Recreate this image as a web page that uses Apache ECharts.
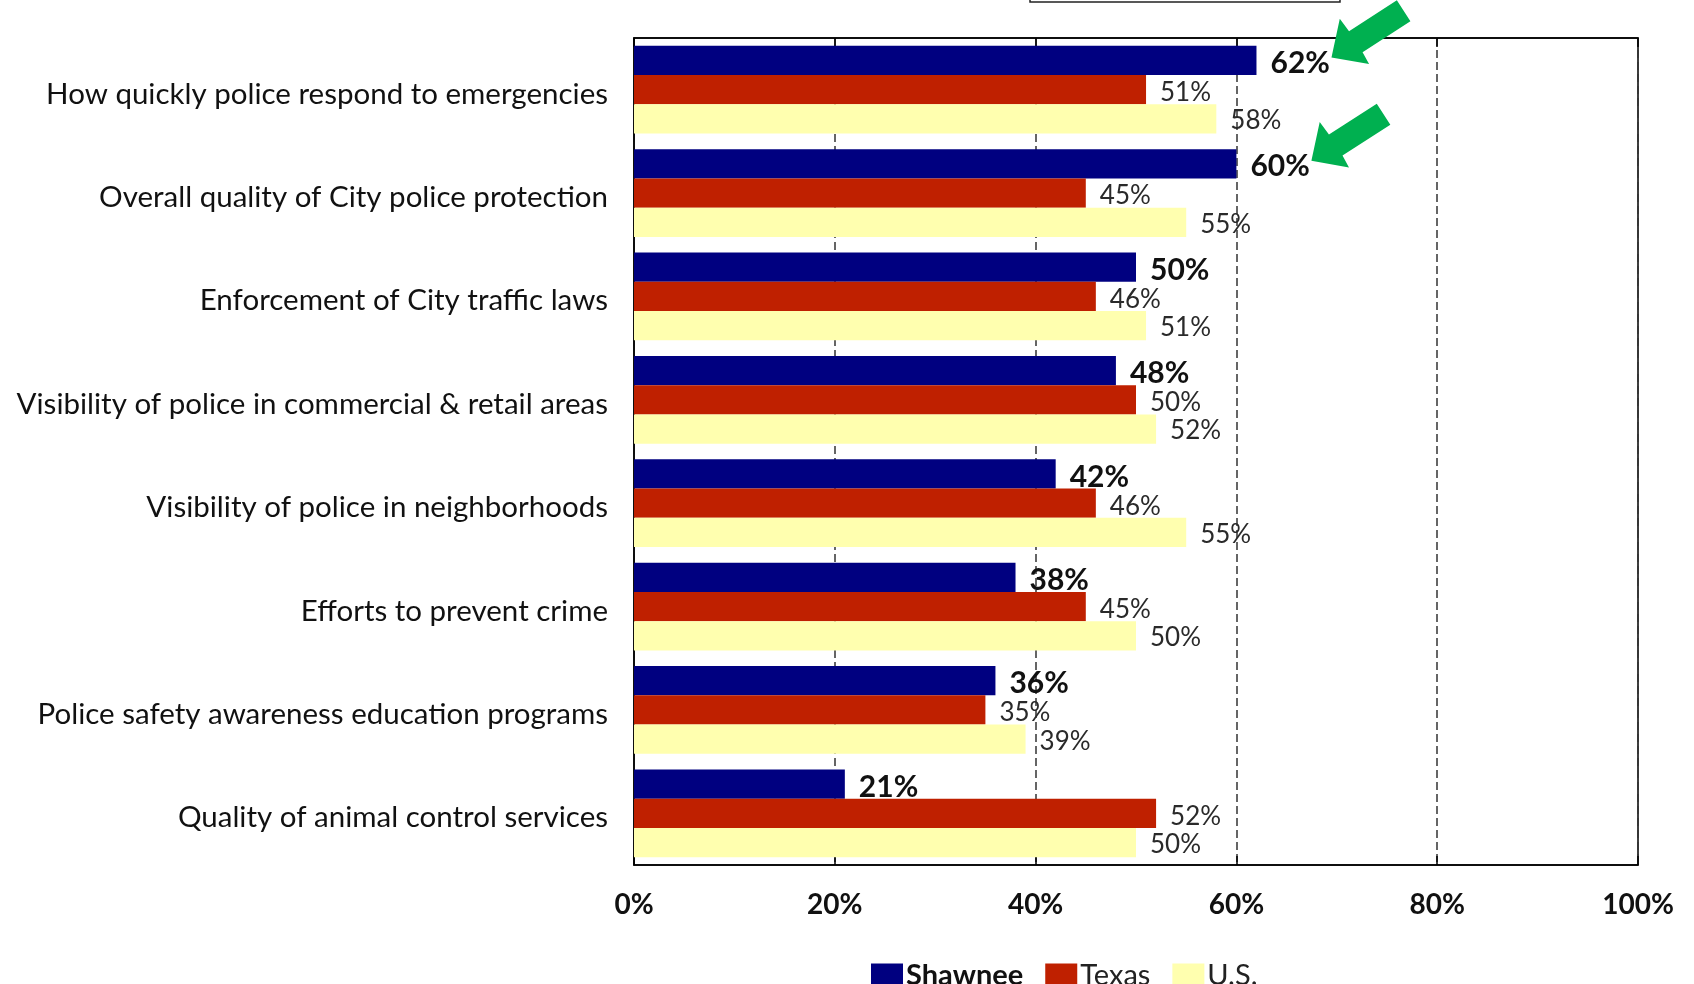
<!DOCTYPE html>
<html>
<head>
<meta charset="utf-8">
<title>Police services satisfaction</title>
<script src="https://cdn.jsdelivr.net/npm/echarts@6/dist/echarts.min.js"></script>
<style>
  html, body { margin: 0; padding: 0; background: #fff; }
  #chart { width: 1694px; height: 984px; }
</style>
</head>
<body>
<div id="chart"></div>
<script>
// Service categories, top to bottom
const categories = [
  'How quickly police respond to emergencies',
  'Overall quality of City police protection',
  'Enforcement of City traffic laws',
  'Visibility of police in commercial & retail areas',
  'Visibility of police in neighborhoods',
  'Efforts to prevent crime',
  'Police safety awareness education programs',
  'Quality of animal control services'
];

// Percent satisfied, by respondent group
const shawnee = [62, 60, 50, 48, 42, 38, 36, 21];
const texas   = [51, 45, 46, 50, 46, 45, 35, 52];
const us      = [58, 55, 51, 52, 55, 50, 39, 50];

// Percent axis ticks
const xTicks = [0, 20, 40, 60, 80, 100];

// Categories highlighted with an arrow
const highlighted = [0, 1];

const FONT = 'Lato, "Noto Sans", sans-serif';

const chart = echarts.init(document.getElementById('chart'), null, { renderer: 'canvas' });

function barSeries(name, data, color, bold, dy) {
  return {
    name: name,
    type: 'bar',
    data: data,
    barGap: '0%',
    barCategoryGap: '15%',
    itemStyle: { color: color },
    z: 3,
    label: {
      show: true,
      position: 'right',
      distance: 14,
      formatter: '{c}%',
      fontFamily: FONT,
      fontSize: bold ? 30 : 26,
      fontWeight: bold ? 'bold' : 'normal',
      color: bold ? '#111' : '#2a2a2a',
      offset: [0, dy]
    }
  };
}

const option = {
  backgroundColor: '#fff',
  animation: false,
  grid: {
    left: 634,
    right: 56,
    top: 38,
    bottom: 119,
    show: true,
    borderColor: '#000',
    borderWidth: 1.5,
    backgroundColor: 'transparent'
  },
  legend: {
    left: 866,
    top: 956,
    itemWidth: 32,
    itemHeight: 24,
    itemGap: 22,
    icon: 'rect',
    data: ['Shawnee', 'Texas', 'U.S.'],
    formatter: function (name) {
      return name === 'Shawnee' ? '{b|' + name + '}' : '{n|' + name + '}';
    },
    textStyle: {
      fontFamily: FONT,
      fontSize: 29,
      color: '#111',
      padding: [0, 0, 0, -2],
      rich: {
        b: { fontFamily: FONT, fontSize: 29, fontWeight: 'bold', color: '#111' },
        n: { fontFamily: FONT, fontSize: 29, color: '#222' }
      }
    }
  },
  xAxis: [
    {
      type: 'value',
      min: xTicks[0],
      max: xTicks[xTicks.length - 1],
      interval: xTicks[1] - xTicks[0],
      position: 'bottom',
      axisLine: { show: true, lineStyle: { color: '#000', width: 1.5 } },
      axisTick: { show: true, inside: true, length: 9, lineStyle: { color: '#000', width: 1.5 } },
      axisLabel: {
        formatter: '{value}%',
        fontFamily: FONT,
        fontSize: 28,
        fontWeight: 'bold',
        color: '#111',
        margin: 26
      },
      splitLine: {
        show: true,
        lineStyle: { color: '#333', width: 1.5, type: [8, 4] }
      }
    },
    {
      type: 'value',
      min: xTicks[0],
      max: xTicks[xTicks.length - 1],
      interval: xTicks[1] - xTicks[0],
      position: 'top',
      axisLine: { show: true, lineStyle: { color: '#000', width: 1.5 } },
      axisTick: { show: true, inside: true, length: 9, lineStyle: { color: '#000', width: 1.5 } },
      axisLabel: { show: false },
      splitLine: { show: false }
    }
  ],
  yAxis: {
    type: 'category',
    data: categories,
    inverse: true,
    axisLine: { show: true, lineStyle: { color: '#000', width: 1.5 } },
    axisTick: { show: false },
    axisLabel: {
      margin: 26,
      formatter: function (v) { return '{c|' + v + '}'; },
      rich: {
        c: {
          fontFamily: FONT,
          fontSize: 29.5,
          color: '#111',
          padding: [9, 0, 0, 0]
        }
      }
    }
  },
  series: [
    barSeries('Shawnee', shawnee, '#000080', true, 3),
    barSeries('Texas', texas, '#BF2000', false, 3),
    barSeries('U.S.', us, '#FFFFAF', false, 2)
  ]
};

chart.setOption(option);

// Green callout arrows pointing at the highlighted Shawnee labels
function arrowPoints(tip) {
  const u = [0.839, -0.542];   // from tip toward tail
  const n = [0.542, 0.839];
  const p = (a, b) => [tip[0] + a * u[0] + b * n[0], tip[1] + a * u[1] + b * n[1]];
  return [tip, p(28, -28), p(29, -12.5), p(86, -12.5), p(86, 12.5), p(29, 12.5), p(28, 26)];
}

const grid = chart.getModel().getComponent('grid').coordinateSystem.getRect();
const band = grid.height / categories.length;
const arrows = highlighted.map(function (i) {
  const end = chart.convertToPixel({ xAxisIndex: 0 }, shawnee[i]);
  const catTop = grid.y + band * i;
  const barH = band * 0.85 / 3;
  const cy = catTop + band * 0.075 + barH / 2;
  return {
    type: 'polygon',
    shape: { points: arrowPoints([end + 75, cy - 3]) },
    style: { fill: '#00B050' },
    z: 10
  };
});

chart.setOption({
  graphic: arrows.concat([
    {
      // lower edge of the boxed heading above the chart
      type: 'rect',
      shape: { x: 1030, y: -30, width: 310, height: 32 },
      style: { fill: 'none', stroke: '#222', lineWidth: 1.5 },
      z: 10
    }
  ])
});
</script>
</body>
</html>
